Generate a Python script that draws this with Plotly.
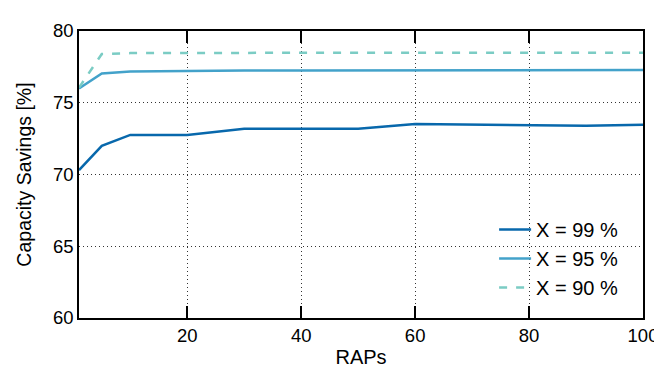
import plotly.graph_objects as go

raps = [1, 5, 10, 20, 30, 40, 50, 60, 70, 80, 90, 100]
x99 = [70.3, 72.0, 72.76, 72.76, 73.19, 73.19, 73.19, 73.52, 73.47, 73.43, 73.39, 73.46]
x95 = [76.0, 77.04, 77.17, 77.22, 77.24, 77.25, 77.26, 77.27, 77.26, 77.28, 77.28, 77.28]
x90 = [76.05, 78.4, 78.46, 78.48, 78.48, 78.49, 78.49, 78.49, 78.49, 78.49, 78.49, 78.49]
labels = ["X = 99 %", "X = 95 %", "X = 90 %"]
colors = ["#0868ac", "#43a2ca", "#7bccc4"]

fig = go.Figure()
fig.add_trace(go.Scatter(x=raps, y=x99, mode="lines", name=labels[0],
                         line=dict(color=colors[0], width=2.5)))
fig.add_trace(go.Scatter(x=raps, y=x95, mode="lines", name=labels[1],
                         line=dict(color=colors[1], width=2.5)))
fig.add_trace(go.Scatter(x=raps, y=x90, mode="lines", name=labels[2],
                         line=dict(color=colors[2], width=2.5, dash="8px,9px")))

font = "Liberation Sans, Arial, Helvetica, sans-serif"
fig.update_layout(
    width=662, height=369,
    margin=dict(l=71, r=16, t=18, b=54),
    paper_bgcolor="white", plot_bgcolor="white",
    font=dict(family=font, size=18.5, color="black"),
    legend=dict(x=0.736, y=0.376, xanchor="left", yanchor="top",
                bgcolor="rgba(0,0,0,0)", font=dict(size=20),
                itemwidth=32, tracegroupgap=0),
    showlegend=True,
)
fig.update_xaxes(
    range=[1, 100], tickvals=[20, 40, 60, 80, 100],
    ticks="inside", ticklen=12, tickwidth=1.5, tickcolor="black",
    showline=True, linecolor="black", linewidth=1.5, mirror="ticks",
    showgrid=True, gridcolor="#333", griddash="1px,3px", gridwidth=1.2,
    zeroline=False,
    title=dict(text="RAPs", font=dict(size=20), standoff=5),
)
fig.update_yaxes(
    range=[60, 80], tickvals=[60, 65, 70, 75, 80],
    ticks="", showline=True, linecolor="black", linewidth=1.5, mirror=True,
    showgrid=True, gridcolor="#333", griddash="1px,3px", gridwidth=1.2,
    zeroline=False,
    title=dict(text="Capacity Savings [%]", font=dict(size=19.5), standoff=16),
)
fig.write_html("out.html")
